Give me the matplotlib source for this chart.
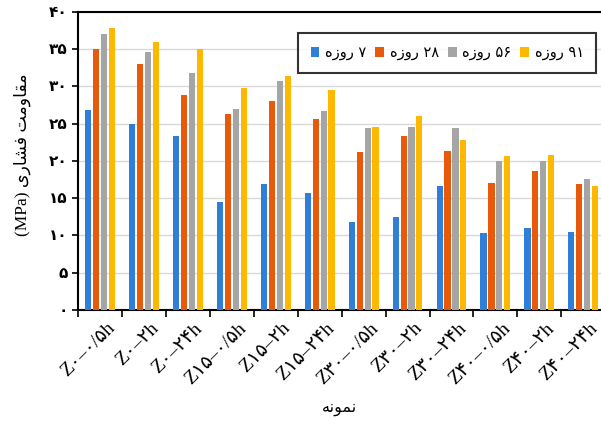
import numpy as np
import matplotlib
matplotlib.use('Agg')
import matplotlib.pyplot as plt
import matplotlib.transforms as mtransforms

# sample names (Persian digits, LTR)
samples = ['Z۰–۰/۵h', 'Z۰–۲h', 'Z۰–۲۴h',
           'Z۱۵–۰/۵h', 'Z۱۵–۲h', 'Z۱۵–۲۴h',
           'Z۳۰–۰/۵h', 'Z۳۰–۲h', 'Z۳۰–۲۴h',
           'Z۴۰–۰/۵h', 'Z۴۰–۲h', 'Z۴۰–۲۴h']

day7 = [26.8, 25.0, 23.3, 14.5, 16.9, 15.7, 11.8, 12.5, 16.7, 10.3, 11.0, 10.5]
day28 = [35.0, 33.0, 28.9, 26.3, 28.0, 25.6, 21.2, 23.4, 21.4, 17.0, 18.6, 16.9]
day56 = [37.1, 34.6, 31.8, 27.0, 30.8, 26.7, 24.4, 24.6, 24.4, 20.0, 20.0, 17.6]
day91 = [37.8, 36.0, 35.0, 29.8, 31.4, 29.5, 24.5, 26.0, 22.8, 20.7, 20.8, 16.6]

# Persian text, pre-shaped into presentation forms and put in visual order
ROOZE = '\uFEE9\uFEAF\uFEED\uFEAD'  # روزه
series_names = [ROOZE + ' ۷', ROOZE + ' ۲۸', ROOZE + ' ۵۶', ROOZE + ' ۹۱']
ylabel = '(MPa) ' + '\uFBFC\uFEAD\uFE8E\uFEB8\uFED3' + ' ' + '\uFE96\uFEE3\uFEED\uFE8E\uFED8\uFEE3'
xlabel = '\uFEEA\uFEE7\uFEEE\uFEE4\uFEE7'  # نمونه

yticks = [0, 5, 10, 15, 20, 25, 30, 35, 40]
ytick_labels = ['۰', '۵', '۱۰', '۱۵', '۲۰', '۲۵', '۳۰', '۳۵', '۴۰']

colors = ['#2F7ED8', '#E8590C', '#A5A5A5', '#FFB800']

fig = plt.figure(figsize=(6.01, 4.21), dpi=100)
ax = fig.add_axes([0.130, 0.2637, 0.877, 0.7078])

x = np.arange(len(samples))
step = 0.18
w = 0.14
for i, (vals, name) in enumerate(zip([day7, day28, day56, day91], series_names)):
    ax.bar(x + (i - 1.5) * step, vals, w, color=colors[i], label=name, zorder=3)

ax.set_xlim(-0.5, len(samples) - 0.5)
ax.set_ylim(0, 40)
ax.set_yticks(yticks)
ax.set_yticklabels(ytick_labels, family=['Liberation Serif', 'DejaVu Sans'],
                   fontsize=11, fontweight='bold')
ax.grid(axis='y', color='#D9D9D9', linewidth=1, zorder=0)

ax.set_xticks(x)
ax.set_xticklabels(samples, rotation=45, ha='right', va='top', rotation_mode='anchor',
                   family=['Liberation Serif', 'DejaVu Sans'], fontsize=14)
ax.tick_params(axis='x', length=0, pad=7)
shift = mtransforms.ScaledTranslation(6 / 100, 0, fig.dpi_scale_trans)
for lab in ax.get_xticklabels():
    lab.set_transform(lab.get_transform() + shift)
ax.set_xticks(np.arange(len(samples) + 1) - 0.5, minor=True)
ax.tick_params(axis='x', which='minor', length=5, width=1.2, color='black')
ax.tick_params(axis='y', length=4, width=1.2, direction='out')

for s in ['left', 'bottom', 'top']:
    ax.spines[s].set_linewidth(1.5)
    ax.spines[s].set_color('black')
ax.spines['right'].set_visible(False)

leg = ax.legend(loc='upper right', bbox_to_anchor=(0.997, 0.955), ncol=4,
                frameon=True, fancybox=False, edgecolor='black',
                handlelength=0.6, handleheight=0.6, handletextpad=0.4,
                columnspacing=0.6, borderpad=0.85,
                prop={'family': ['DejaVu Sans'], 'size': 10.5})
leg.get_frame().set_linewidth(1.5)

fig.text(0.037, 0.632, ylabel, rotation=90, ha='center', va='center',
         family=['Liberation Serif', 'DejaVu Sans'], fontsize=12.5)
fig.text(0.565, 0.03, xlabel, ha='center', va='center',
         family=['DejaVu Sans'], fontsize=11.5)

fig.savefig('out.png', dpi=100)
